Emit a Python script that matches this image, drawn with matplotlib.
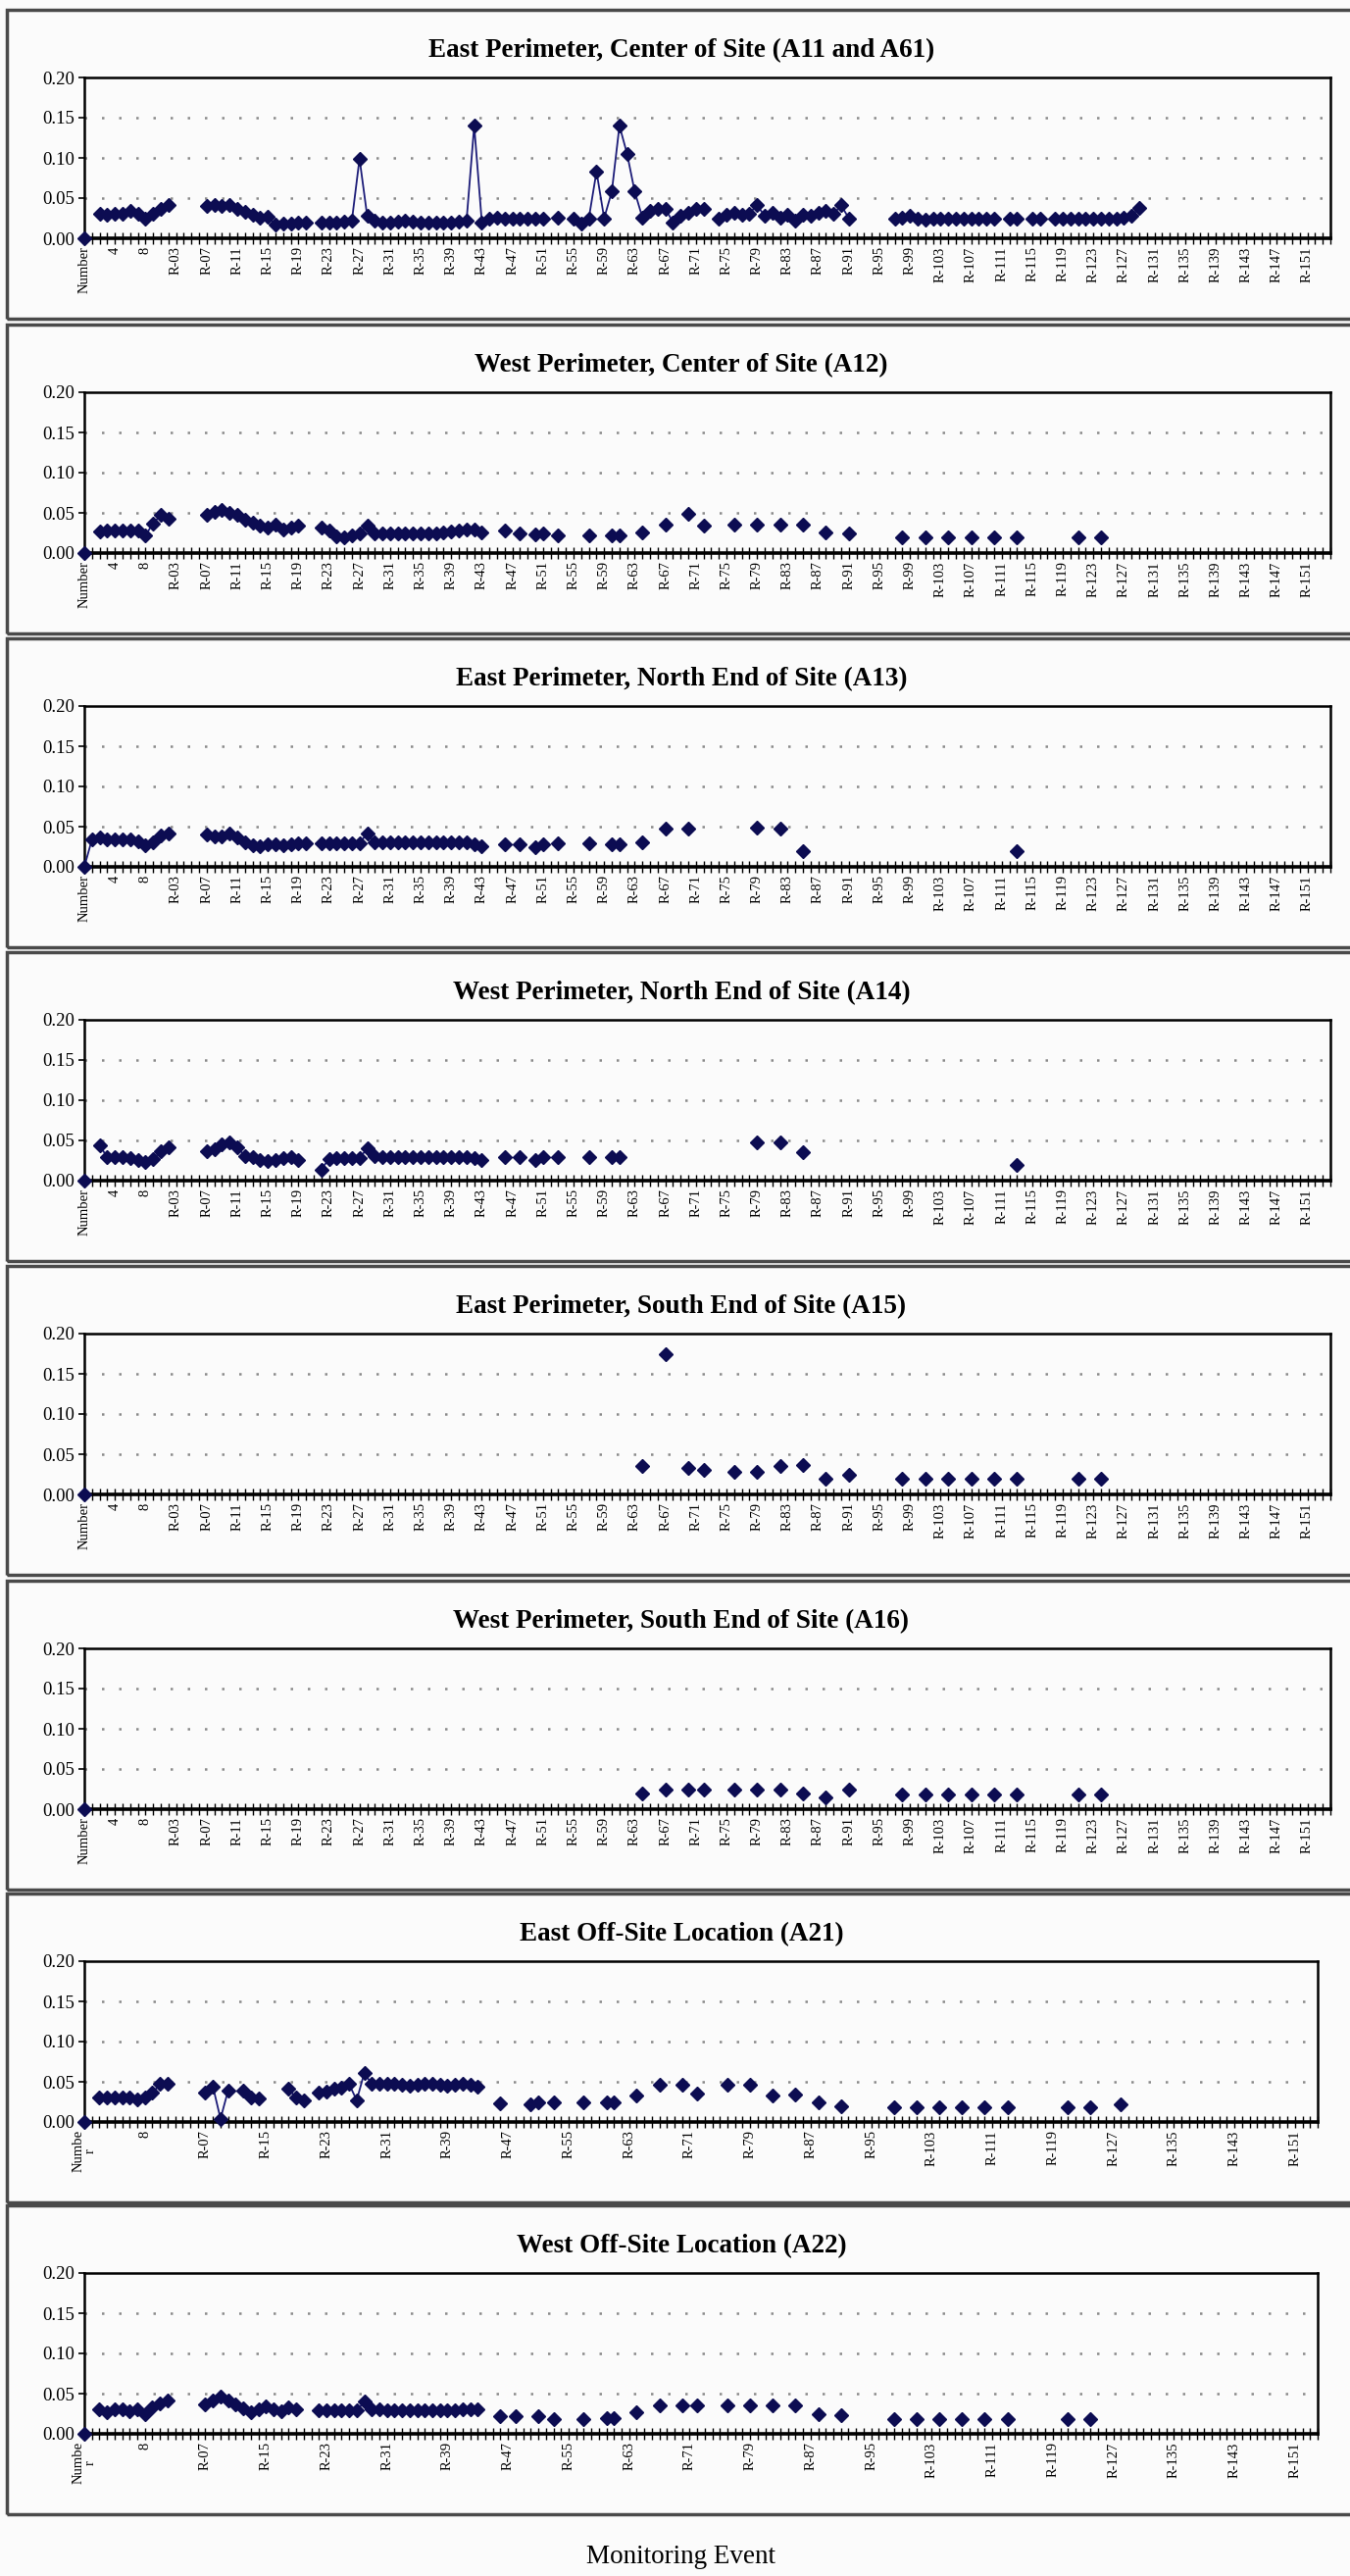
import numpy as np
import matplotlib.pyplot as plt
from matplotlib.patches import Rectangle

# monitoring events along the category axis
events = ['Number'] + [str(i) for i in range(1, 10)] + [f'R-{n:02d}' for n in range(1, 155)]

# each series is stored as runs: (first event index, consecutive values)
a11_a61 = [
    (0, [0.0]),
    (2, [0.030, 0.029, 0.030, 0.030, 0.034, 0.030, 0.025, 0.030, 0.037, 0.042]),
    (16, [0.040, 0.042, 0.040, 0.042, 0.037, 0.033, 0.029, 0.026, 0.027, 0.017, 0.018, 0.018, 0.019, 0.020]),
    (31, [0.019, 0.020, 0.020, 0.021, 0.022, 0.099, 0.028,
          0.022, 0.020, 0.020, 0.021, 0.022, 0.021, 0.020, 0.020, 0.019, 0.020, 0.020, 0.021, 0.022,
          0.140, 0.020, 0.025, 0.026, 0.025, 0.025, 0.025, 0.025, 0.025, 0.025]),
    (62, [0.026]),
    (64, [0.025, 0.018, 0.025, 0.083, 0.025, 0.058, 0.140, 0.105, 0.058, 0.026, 0.034, 0.036, 0.037,
          0.020, 0.028, 0.032, 0.036, 0.037]),
    (83, [0.025, 0.029, 0.032, 0.029, 0.031, 0.041, 0.028, 0.032, 0.026, 0.029, 0.022, 0.029, 0.028,
          0.032, 0.034, 0.030, 0.041, 0.025]),
    (106, [0.024, 0.026, 0.028, 0.024, 0.023, 0.025, 0.024, 0.024, 0.024, 0.024, 0.024, 0.024, 0.024, 0.024]),
    (121, [0.024, 0.024]),
    (124, [0.024, 0.024]),
    (127, [0.024, 0.024, 0.024, 0.024, 0.024, 0.024, 0.024, 0.024, 0.025, 0.026, 0.028, 0.038]),
]

a12 = [
    (0, [0.0]),
    (2, [0.027, 0.028, 0.028, 0.028, 0.028, 0.028, 0.022, 0.037, 0.047, 0.043]),
    (16, [0.048, 0.051, 0.054, 0.050, 0.047, 0.042, 0.038, 0.034, 0.032, 0.035, 0.029, 0.032, 0.034]),
    (31, [0.032, 0.028, 0.021, 0.020, 0.022, 0.024, 0.034, 0.025,
          0.025, 0.025, 0.025, 0.025, 0.025, 0.025, 0.025, 0.025,
          0.026, 0.027, 0.028, 0.029, 0.029, 0.026]),
    (55, [0.028]), (57, [0.024]), (59, [0.023, 0.024]), (62, [0.022]), (66, [0.022]),
    (69, [0.022, 0.022]), (73, [0.026]), (76, [0.035]), (79, [0.049]), (81, [0.034]),
    (85, [0.035]), (88, [0.035]), (91, [0.035]), (94, [0.035]), (97, [0.026]), (100, [0.024]),
    (107, [0.020]), (110, [0.020]), (113, [0.020]), (116, [0.020]), (119, [0.020]), (122, [0.020]),
    (130, [0.020]), (133, [0.020]),
]

a13 = [
    (0, [0.0, 0.034, 0.036, 0.034, 0.034, 0.034, 0.034, 0.032, 0.027, 0.031, 0.039, 0.042]),
    (16, [0.040, 0.038, 0.038, 0.042, 0.036, 0.030, 0.027, 0.026, 0.028, 0.028, 0.027, 0.028, 0.029, 0.029]),
    (31, [0.029, 0.029, 0.029, 0.029, 0.029, 0.029, 0.042,
          0.030, 0.030, 0.030, 0.030, 0.030, 0.030, 0.030, 0.030, 0.030, 0.030, 0.030, 0.030, 0.030,
          0.028, 0.026]),
    (55, [0.028]), (57, [0.028]), (59, [0.024, 0.028]), (62, [0.029]), (66, [0.029]),
    (69, [0.028, 0.028]), (73, [0.031]), (76, [0.048]), (79, [0.048]),
    (88, [0.049]), (91, [0.048]), (94, [0.020]), (122, [0.020]),
]

a14 = [
    (0, [0.0]),
    (2, [0.044, 0.029, 0.029, 0.029, 0.028, 0.026, 0.023, 0.027, 0.036, 0.042]),
    (16, [0.037, 0.039, 0.045, 0.047, 0.041, 0.031, 0.029, 0.025, 0.024, 0.025, 0.028, 0.029, 0.026]),
    (31, [0.014, 0.027, 0.028, 0.028, 0.028, 0.028, 0.040, 0.031,
          0.029, 0.029, 0.029, 0.029, 0.029, 0.029, 0.029, 0.029, 0.029, 0.029, 0.029, 0.029,
          0.028, 0.026]),
    (55, [0.029]), (57, [0.029]), (59, [0.026, 0.029]), (62, [0.029]), (66, [0.029]),
    (69, [0.029, 0.029]), (88, [0.047]), (91, [0.047]), (94, [0.035]), (122, [0.020]),
]

a15 = [
    (0, [0.0]),
    (73, [0.035]), (76, [0.175]), (79, [0.033]), (81, [0.030]), (85, [0.028]), (88, [0.028]),
    (91, [0.035]), (94, [0.037]), (97, [0.020]), (100, [0.024]),
    (107, [0.020]), (110, [0.020]), (113, [0.020]), (116, [0.020]), (119, [0.020]), (122, [0.020]),
    (130, [0.020]), (133, [0.020]),
]

a16 = [
    (0, [0.0]),
    (73, [0.020]), (76, [0.024]), (79, [0.024]), (81, [0.024]), (85, [0.024]), (88, [0.024]),
    (91, [0.024]), (94, [0.020]), (97, [0.015]), (100, [0.024]),
    (107, [0.018]), (110, [0.018]), (113, [0.018]), (116, [0.018]), (119, [0.018]), (122, [0.018]),
    (130, [0.018]), (133, [0.018]),
]

a21 = [
    (0, [0.0]),
    (2, [0.030, 0.030, 0.030, 0.030, 0.030, 0.028, 0.030, 0.036, 0.047, 0.048]),
    (16, [0.037, 0.044, 0.004, 0.039]),
    (21, [0.039, 0.030, 0.029]),
    (27, [0.041, 0.030, 0.027]),
    (31, [0.037, 0.038, 0.042, 0.043, 0.047, 0.027, 0.061,
          0.047, 0.047, 0.048, 0.047, 0.046, 0.045, 0.046, 0.047, 0.048, 0.046, 0.045, 0.046, 0.047,
          0.046, 0.044]),
    (55, [0.023]), (59, [0.022, 0.024]), (62, [0.024]), (66, [0.024]), (69, [0.025, 0.025]),
    (73, [0.033]), (76, [0.046]), (79, [0.046]), (81, [0.035]), (85, [0.046]), (88, [0.046]),
    (91, [0.033]), (94, [0.034]), (97, [0.025]), (100, [0.020]),
    (107, [0.018]), (110, [0.018]), (113, [0.018]), (116, [0.018]), (119, [0.018]), (122, [0.018]),
    (130, [0.018]), (133, [0.018]), (137, [0.022]),
]

a22 = [
    (0, [0.0]),
    (2, [0.030, 0.027, 0.030, 0.030, 0.028, 0.030, 0.024, 0.033, 0.038, 0.042]),
    (16, [0.036, 0.041, 0.046, 0.042, 0.036, 0.032, 0.027, 0.030, 0.034, 0.030, 0.028, 0.033, 0.030]),
    (31, [0.029, 0.029, 0.029, 0.029, 0.029, 0.029, 0.040,
          0.030, 0.030, 0.029, 0.029, 0.029, 0.029, 0.029, 0.029, 0.029, 0.029, 0.029, 0.029, 0.030,
          0.030, 0.031]),
    (55, [0.022]), (57, [0.022]), (60, [0.022]), (62, [0.018]), (66, [0.018]),
    (69, [0.020, 0.020]), (73, [0.027]), (76, [0.035]), (79, [0.035]), (81, [0.035]),
    (85, [0.035]), (88, [0.035]), (91, [0.035]), (94, [0.035]), (97, [0.025]), (100, [0.023]),
    (107, [0.018]), (110, [0.018]), (113, [0.018]), (116, [0.018]), (119, [0.018]), (122, [0.018]),
    (130, [0.018]), (133, [0.018]),
]

titles = [
    'East Perimeter, Center of Site (A11 and A61)',
    'West Perimeter, Center of Site (A12)',
    'East Perimeter, North End of Site (A13)',
    'West Perimeter, North End of Site (A14)',
    'East Perimeter, South End of Site (A15)',
    'West Perimeter, South End of Site (A16)',
    'East Off-Site Location (A21)',
    'West Off-Site Location (A22)',
]
series = [a11_a61, a12, a13, a14, a15, a16, a21, a22]
label_step = [4, 4, 4, 4, 4, 4, 8, 8]


def build(runs):
    y = np.full(len(events), np.nan)
    for start, vals in runs:
        y[start:start + len(vals)] = vals
    return y


W, H = 1377, 2627
SERIF = ['Liberation Serif', 'DejaVu Serif']
NAVY = '#0c0c52'

fig = plt.figure(figsize=(W / 100, H / 100), dpi=100)
fig.patch.set_facecolor('#fbfbfb')

zero_y = [243, 564, 884, 1204, 1524, 1845, 2164, 2482]   # pixel row of the 0.00 line
x = np.arange(len(events))

for k in range(8):
    z = zero_y[k]
    # panel frame
    fig.add_artist(Rectangle((7 / W, 1 - (z + 82) / H), 1.02, 315 / H,
                             transform=fig.transFigure, fill=False,
                             edgecolor='#4a4a4a', linewidth=2.5))

    left = 86
    right = 1357 if k < 6 else 1344
    ax = fig.add_axes([left / W, 1 - z / H, (right - left) / W, 164 / H])
    ax.set_facecolor('#fbfbfb')

    y = build(series[k])
    ax.plot(x, y, '-', color='#1c1c78', linewidth=1.3, marker='D', markersize=7,
            markerfacecolor=NAVY, markeredgecolor=NAVY, clip_on=False, zorder=3)

    ax.set_xlim(0, len(events) - 1)
    ax.set_ylim(0, 0.20)

    for gy in (0.05, 0.10, 0.15):
        ax.axhline(gy, color='#8a8a8a', linewidth=1.8, linestyle=(0, (1, 6)), zorder=1)

    ax.set_yticks([0, 0.05, 0.10, 0.15, 0.20])
    ax.set_yticklabels([f'{v:.2f}' for v in [0, 0.05, 0.10, 0.15, 0.20]],
                       family=SERIF, fontsize=13.5)
    ax.tick_params(axis='y', direction='out', length=4, width=1.2, pad=3)

    step = label_step[k]
    labels = []
    for i, name in enumerate(events):
        if i % step:
            labels.append('')
        elif i == 0 and step == 8:
            labels.append('Numbe\nr')
        else:
            labels.append(name)
    ax.set_xticks(x)
    ax.set_xticklabels(labels, rotation=90, family=SERIF, fontsize=10.5, linespacing=0.9)
    ax.tick_params(axis='x', direction='inout', length=8, width=1.0, pad=2)

    for side in ('top', 'right', 'left'):
        ax.spines[side].set_linewidth(1.8)
    ax.spines['bottom'].set_linewidth(2.6)

    fig.text(695 / W, 1 - (z - 191) / H, titles[k], ha='center', va='center',
             family=SERIF, fontsize=19.5, fontweight='bold')

fig.text(695 / W, 1 - 2608 / H, 'Monitoring Event', ha='center', va='center',
         family=SERIF, fontsize=19.5)

fig.savefig('out.png', dpi=100, facecolor=fig.get_facecolor())
